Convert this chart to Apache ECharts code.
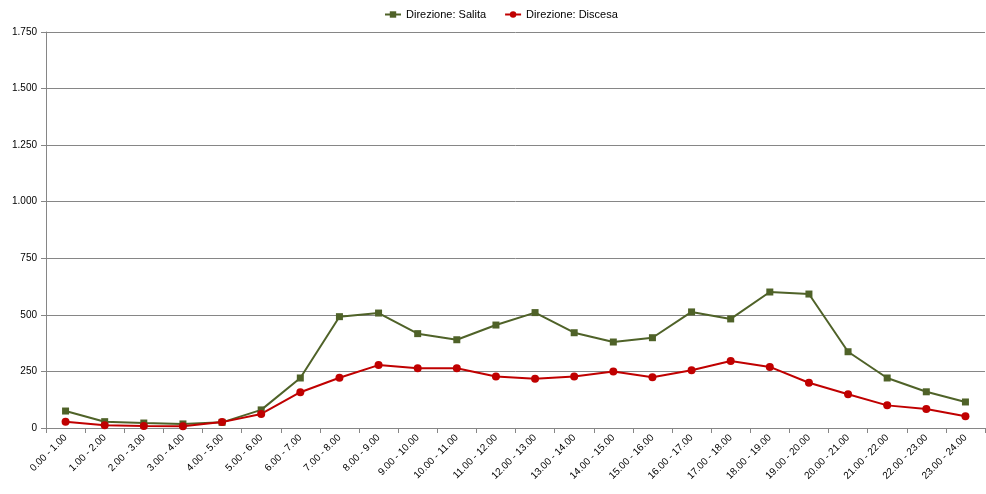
<!DOCTYPE html>
<html><head><meta charset="utf-8">
<script src="https://cdn.jsdelivr.net/npm/echarts@6/dist/echarts.min.js"></script>
<style>html,body{margin:0;padding:0;background:#fff}#c{width:986px;height:494px}</style>
</head><body><div id="c"></div>
<script>
const categories = ["0.00 - 1.00","1.00 - 2.00","2.00 - 3.00","3.00 - 4.00","4.00 - 5.00","5.00 - 6.00","6.00 - 7.00","7.00 - 8.00","8.00 - 9.00","9.00 - 10.00","10.00 - 11.00","11.00 - 12.00","12.00 - 13.00","13.00 - 14.00","14.00 - 15.00","15.00 - 16.00","16.00 - 17.00","17.00 - 18.00","18.00 - 19.00","19.00 - 20.00","20.00 - 21.00","21.00 - 22.00","22.00 - 23.00","23.00 - 24.00"];
const salita = [75,28,22,18,25,80,221,492,508,417,390,455,510,421,380,399,513,482,601,592,337,221,160,115];
const discesa = [28,12,9,8,26,62,158,222,278,264,264,228,218,228,250,224,255,296,270,200,149,100,84,52];
const seriesNames = ["Direzione: Salita","Direzione: Discesa"];
const fontFam = "'Liberation Sans', Arial, sans-serif";
const chart = echarts.init(document.getElementById('c'), null, {renderer:'canvas'});
chart.setOption({
  animation:false,
  backgroundColor:'#fff',
  legend:{
    top:4, left:379, itemWidth:16, itemHeight:8, itemGap:18,
    textStyle:{fontFamily:fontFam,fontSize:11,color:'#000'},
    data:seriesNames
  },
  grid:{left:46,right:1,top:32,bottom:66,containLabel:false},
  xAxis:{
    type:'category', data:categories, boundaryGap:true,
    axisLine:{lineStyle:{color:'#868686'}},
    axisTick:{show:true,alignWithLabel:false,length:5,lineStyle:{color:'#868686'}},
    axisLabel:{rotate:45,fontFamily:fontFam,fontSize:10,color:'#000',interval:0,margin:8}
  },
  yAxis:{
    type:'value', min:0, max:1750, interval:250,
    axisLine:{show:true,lineStyle:{color:'#868686'}},
    axisTick:{show:true,inside:false,length:5,lineStyle:{color:'#868686'}},
    splitLine:{lineStyle:{color:'#868686',width:1}},
    axisLabel:{fontFamily:fontFam,fontSize:10,color:'#000',margin:9,
      formatter:v=>v>=1000?(Math.floor(v/1000)+'.'+String(v%1000).padStart(3,'0')):String(v)}
  },
  series:[
    {name:seriesNames[0],type:'line',data:salita,symbol:'rect',symbolSize:7,
     lineStyle:{color:'#4f6228',width:2},itemStyle:{color:'#4f6228'}},
    {name:seriesNames[1],type:'line',data:discesa,symbol:'circle',symbolSize:8,
     lineStyle:{color:'#c00000',width:2},itemStyle:{color:'#c00000'}}
  ]
});
</script></body></html>
